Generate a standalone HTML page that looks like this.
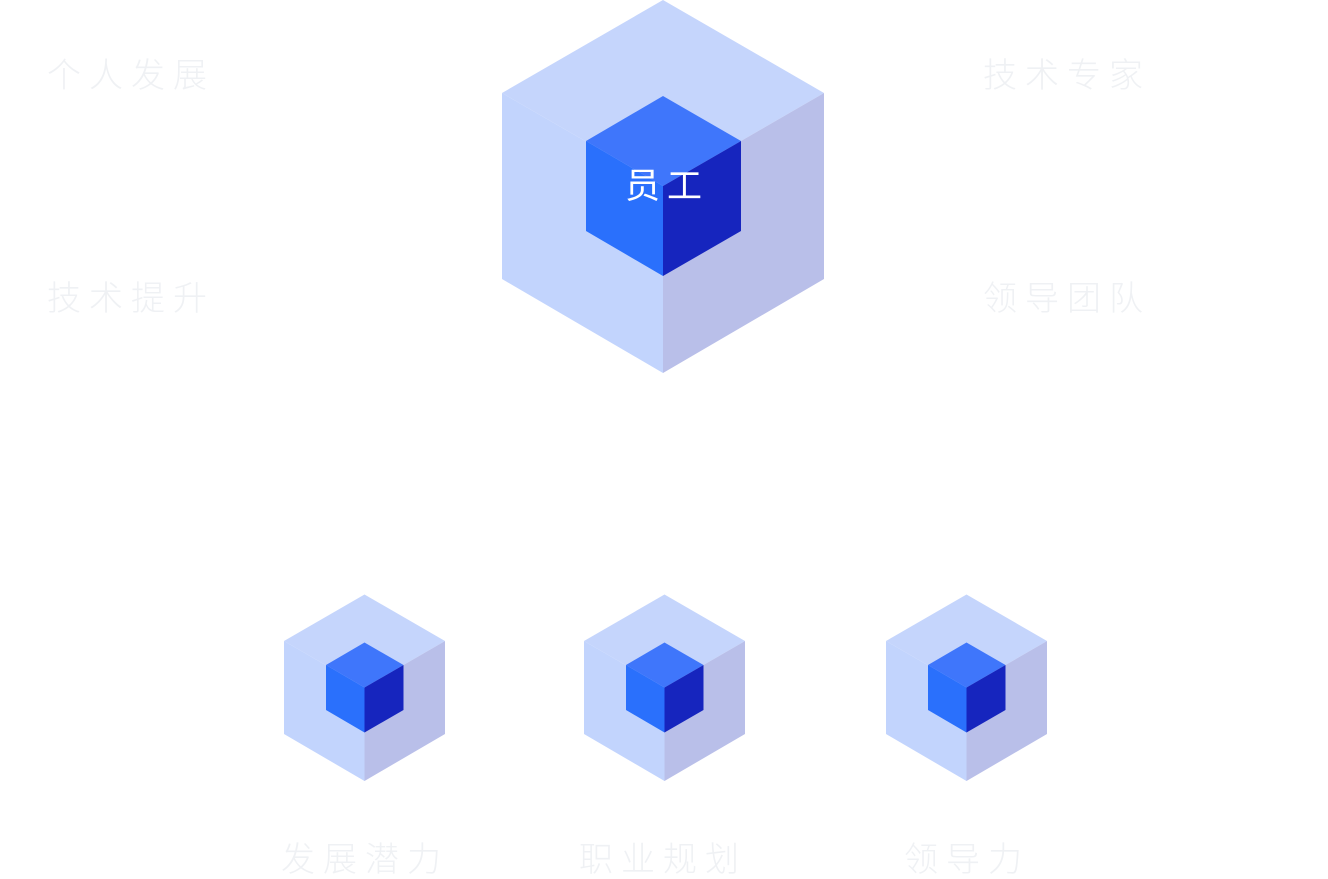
<!DOCTYPE html>
<html><head><meta charset="utf-8"><style>
body{margin:0;width:1328px;height:876px;background:#fff;overflow:hidden;position:relative;font-family:"Liberation Sans","Noto Sans CJK SC",sans-serif}
.t{position:absolute;font-size:34px;letter-spacing:8px;color:#eff1f4;font-weight:300;line-height:1;white-space:nowrap}
svg{position:absolute;left:0;top:0}
</style></head><body>
<svg width="1328" height="876">
<defs>
<g id="c">
<polygon points="0,-93 161,0 0,93 -161,0" fill="#c5d5fc"/>
<polygon points="-161,0 0,93 0,280 -161,186" fill="#c2d4fd"/>
<polygon points="161,0 0,93 0,280 161,186" fill="#b9bfe9"/>
<polygon points="0,3 78,48 0,93 -77,48" fill="#3f76fb"/>
<polygon points="-77,48 0,93 0,183 -77,138" fill="#2a70fc"/>
<polygon points="78,48 0,93 0,183 78,138" fill="#1625be"/>
</g>
</defs>
<use href="#c" transform="translate(663,93)"/>
<use href="#c" transform="translate(364.5,641) scale(0.5)"/>
<use href="#c" transform="translate(664.5,641) scale(0.5)"/>
<use href="#c" transform="translate(966.5,641) scale(0.5)"/>
<text x="667" y="198" font-size="35" fill="#fff" text-anchor="middle" letter-spacing="7" font-family="Liberation Sans,Noto Sans CJK SC,sans-serif">员工</text>
</svg>
<div class="t" style="left:47px;top:59px">个人发展</div>
<div class="t" style="left:47px;top:282px">技术提升</div>
<div class="t" style="left:983px;top:59px">技术专家</div>
<div class="t" style="left:983px;top:282px">领导团队</div>
<div class="t" style="left:281px;top:843px">发展潜力</div>
<div class="t" style="left:579px;top:843px">职业规划</div>
<div class="t" style="left:904px;top:843px">领导力</div>
</body></html>
